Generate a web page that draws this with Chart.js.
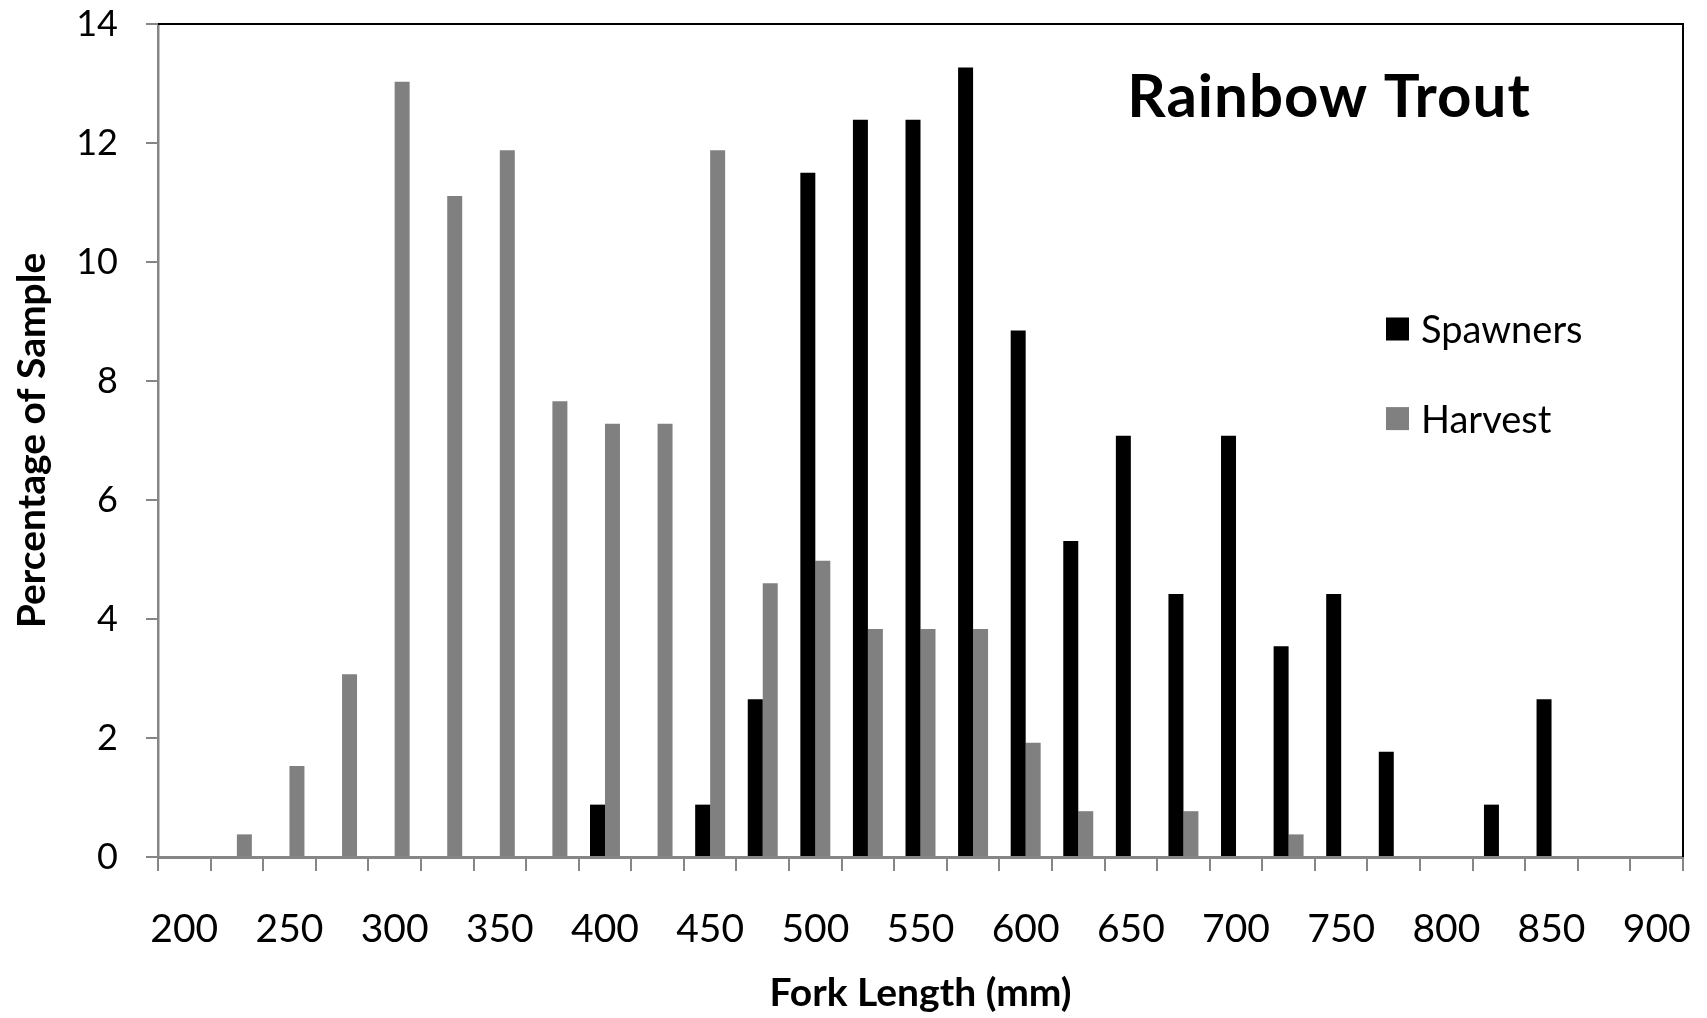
<!DOCTYPE html>
<html>
<head>
<meta charset="utf-8">
<title>Rainbow Trout</title>
<script src="https://cdn.jsdelivr.net/npm/chart.js@4.4.1/dist/chart.umd.min.js"></script>
<style>
  html, body { margin: 0; padding: 0; background: #fff; }
  #wrap { width: 1707px; height: 1018px; }
</style>
</head>
<body>
<div id="wrap"><canvas id="chart" width="1707" height="1018"></canvas></div>
<script>
// Fork length classes (mm), 25 mm bins
const forkLengths = [200, 225, 250, 275, 300, 325, 350, 375, 400, 425, 450, 475, 500, 525, 550,
  575, 600, 625, 650, 675, 700, 725, 750, 775, 800, 825, 850, 875, 900];

// Percentage of sample in each bin
const spawners = [0, 0, 0, 0, 0, 0, 0, 0, 0.88, 0, 0.88, 2.65, 11.5, 12.39, 12.39,
  13.27, 8.85, 5.31, 7.08, 4.42, 7.08, 3.54, 4.42, 1.77, 0, 0.88, 2.65, 0, 0];
const harvest = [0, 0.38, 1.53, 3.07, 13.03, 11.11, 11.88, 7.66, 7.28, 7.28, 11.88, 4.6, 4.98, 3.83, 3.83,
  3.83, 1.92, 0.77, 0, 0.77, 0, 0.38, 0, 0, 0, 0, 0, 0, 0];

const seriesNames = ['Spawners', 'Harvest'];
const seriesColors = ['#000000', '#808080'];
const chartTitle = 'Rainbow Trout';
const xTitle = 'Fork Length (mm)';
const yTitle = 'Percentage of Sample';

const FONT = 'Lato';
const AXIS_GRAY = '#868686';

// black frame on the top and right of the plot area
const plotFrame = {
  id: 'plotFrame',
  afterDraw(chart) {
    const { ctx, chartArea: a } = chart;
    ctx.save();
    ctx.strokeStyle = '#000';
    ctx.lineWidth = 2;
    ctx.beginPath();
    ctx.moveTo(a.left, a.top);
    ctx.lineTo(a.right, a.top);
    ctx.lineTo(a.right, a.bottom);
    ctx.stroke();
    ctx.restore();
  }
};

// title and legend sit inside the plot, top right
const insideLabels = {
  id: 'insideLabels',
  afterDraw(chart) {
    const { ctx } = chart;
    ctx.save();
    ctx.fillStyle = '#000';
    ctx.font = `bold 60px ${FONT}`;
    ctx.letterSpacing = '1px';
    ctx.textAlign = 'center';
    ctx.textBaseline = 'alphabetic';
    ctx.fillText(chartTitle, 1329, 117);
    ctx.letterSpacing = '0px';

    ctx.font = `38px ${FONT}`;
    ctx.textAlign = 'left';
    chart.data.datasets.forEach((ds, i) => {
      const cy = 329 + i * 89.6;
      ctx.fillStyle = ds.backgroundColor;
      ctx.fillRect(1386, cy - 11.5, 23, 23);
      ctx.fillStyle = '#000';
      ctx.fillText(ds.label, 1421, cy + 14);
    });
    ctx.restore();
  }
};

const ctx = document.getElementById('chart').getContext('2d');

new Chart(ctx, {
  type: 'bar',
  data: {
    labels: forkLengths,
    datasets: [
      {
        label: seriesNames[0],
        data: spawners,
        backgroundColor: seriesColors[0],
        borderWidth: 0
      },
      {
        label: seriesNames[1],
        data: harvest,
        backgroundColor: seriesColors[1],
        borderWidth: 0
      }
    ]
  },
  options: {
    responsive: false,
    animation: false,
    devicePixelRatio: 1,
    categoryPercentage: 0.57,
    barPercentage: 1.0,
    layout: {
      padding: { top: 24, right: 24, bottom: 0, left: 0 }
    },
    plugins: {
      legend: { display: false },
      tooltip: { enabled: false }
    },
    scales: {
      x: {
        // fixed axis height; label overhang is covered by the layout padding
        afterFit: (scale) => {
          scale.height = 161;
          scale.paddingLeft = 0;
          scale.paddingRight = 0;
        },
        grid: {
          drawOnChartArea: false,
          offset: true,
          tickLength: 14,
          color: AXIS_GRAY,
          lineWidth: 2
        },
        border: { color: AXIS_GRAY, width: 3 },
        ticks: {
          autoSkip: false,
          maxRotation: 0,
          minRotation: 0,
          padding: 35,
          color: '#000',
          font: { family: FONT, size: 39 },
          // every other length class is labelled
          callback: (value, index) => (index % 2 === 0 ? forkLengths[index] : '')
        },
        title: {
          display: true,
          text: xTitle,
          color: '#000',
          font: { family: FONT, size: 39, weight: 'bold' },
          padding: { top: 0, bottom: 1 }
        }
      },
      y: {
        min: 0,
        max: 14,
        afterFit: (scale) => {
          scale.width = 158;
          scale.paddingTop = 0;
          scale.paddingBottom = 0;
        },
        grid: {
          drawOnChartArea: false,
          tickLength: 12,
          color: AXIS_GRAY,
          lineWidth: 2
        },
        border: { color: AXIS_GRAY, width: 2.5 },
        ticks: {
          stepSize: 2,
          padding: 28,
          color: '#000',
          font: { family: FONT, size: 36 }
        },
        title: {
          display: true,
          text: yTitle,
          color: '#000',
          font: { family: FONT, size: 39, weight: 'bold' },
          padding: { top: 9, bottom: 0 }
        }
      }
    }
  },
  plugins: [plotFrame, insideLabels]
});
</script>
</body>
</html>
